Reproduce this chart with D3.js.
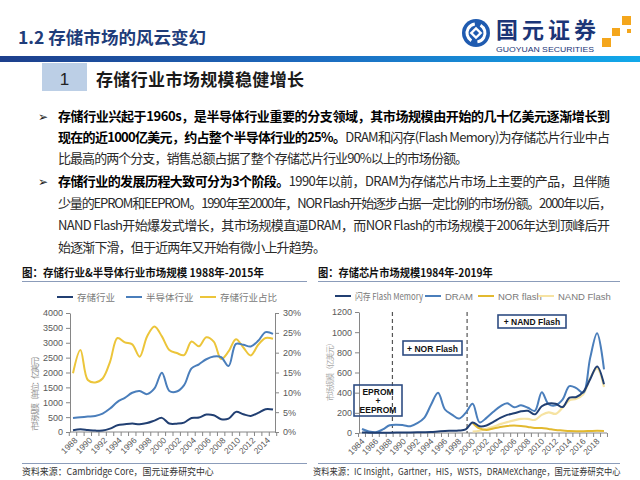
<!DOCTYPE html>
<html><head><meta charset="utf-8">
<script src="https://cdn.jsdelivr.net/npm/d3@7"></script>
<style>body{margin:0;background:#fff}svg{display:block}</style>
</head><body><svg id="c" width="640" height="480"></svg>
<script>
// ---------- DATA ----------
const years1 = [1988,1989,1990,1991,1992,1993,1994,1995,1996,1997,1998,1999,2000,2001,2002,2003,2004,2005,2006,2007,2008,2009,2010,2011,2012,2013,2014,2015];
const memory1 = [60,90,68,48,48,113,225,259,282,262,300,383,475,285,280,315,473,485,586,563,430,450,676,597,541,642,766,755];
const semi1 = [473,496,518,541,620,789,1014,1150,1318,1375,1273,1465,1994,1380,1360,1577,2141,2276,2445,2535,2513,2220,2964,2930,2873,3065,3358,3301];
const ratio1 = [14.8,20.7,13.1,12.5,13.5,17.7,23.7,22.6,22.1,19.0,24.1,26.6,24.1,20.7,19.9,19.4,22.8,21.6,23.9,22.8,18.4,20.3,23.4,21.3,19.3,22.0,23.7,23.5];
const leftTicks1 = [0,500,1000,1500,2000,2500,3000,3500,4000];
const rightTicks1 = [0,5,10,15,20,25,30];
const xLabels1 = [1988,1990,1992,1994,1996,1998,2000,2002,2004,2006,2008,2010,2012,2014];

const years2 = [1984,1985,1986,1987,1988,1989,1990,1991,1992,1993,1994,1995,1996,1997,1998,1999,2000,2001,2002,2003,2004,2005,2006,2007,2008,2009,2010,2011,2012,2013,2014,2015,2016,2017,2018,2019];
const flash2 = [5,3,2,2,3,4,5,6,7,8,10,15,20,22,25,35,105,67,75,110,150,180,195,215,220,185,265,293,290,257,350,357,407,533,660,483];
const dram2 = [40,15,7,35,77,83,77,67,97,150,283,400,233,183,143,200,290,105,150,210,265,295,255,275,250,220,405,285,275,330,465,445,400,745,990,630];
const nor2 = [null,null,null,null,null,null,null,null,null,null,null,null,null,null,null,null,100,45,30,45,60,70,75,70,60,50,50,40,30,25,20,18,18,20,22,20];
const nand2 = [null,null,null,null,null,null,null,null,null,null,null,null,null,null,null,null,15,22,42,62,88,108,125,140,140,130,180,205,190,250,325,340,385,545,640,455];
const yTicks2 = [0,200,400,600,800,1000,1200];
const xLabels2 = [1984,1986,1988,1990,1992,1994,1996,1998,2000,2002,2004,2006,2008,2010,2012,2014,2016,2018];
const phaseYears = [1988.4, 1999.2];

// ---------- SETUP ----------
const svg = d3.select('#c');
const CJK = '"Noto Sans CJK SC", sans-serif';
const LAT = '"Liberation Sans", Arial, sans-serif';
const NAVY = '#213f72', BLUE = '#4a7ebb', GOLD = '#ecc53a', NOR = '#e2b92f', NAND = '#f6e3a2';
const fmt = d3.format('d');

const defs = svg.append('defs');
const gr = defs.append('linearGradient').attr('id','bar').attr('x1','0').attr('x2','1');
gr.append('stop').attr('offset','0').attr('stop-color','#1d3f8c');
gr.append('stop').attr('offset','0.5').attr('stop-color','#1c6cc0');
gr.append('stop').attr('offset','1').attr('stop-color','#12a9ea');

// text squeezed horizontally to a target width (keeps glyph height)
function fitText(x,y,target,attrs,str){
  const g = svg.append('g');
  const t = g.append('text');
  Object.entries(attrs).forEach(([k,v])=>t.attr(k,v));
  t.text(str);
  const w = t.node().getComputedTextLength();
  const s = Math.min(1,target/w);
  g.attr('transform',`translate(${x},${y}) scale(${s},1)`);
  return t;
}

// ---------- HEADER ----------
svg.append('text').attr('x',18).attr('y',44).attr('font-family',CJK).attr('font-weight','bold')
  .attr('font-size',17).attr('fill','#1f3d7a').attr('textLength',188).attr('lengthAdjust','spacingAndGlyphs')
  .text('1.2 存储市场的风云变幻');

// logo
const lg = svg.append('g').attr('transform','translate(476,33)');
lg.append('circle').attr('r',14).attr('fill','#1f5bb0');
lg.append('circle').attr('r',9).attr('fill','none').attr('stroke','#fff').attr('stroke-width',3)
  .attr('stroke-dasharray','22 6.3').attr('transform','rotate(-60)');
lg.append('rect').attr('x',-4.5).attr('y',-4.5).attr('width',9).attr('height',9).attr('fill','#fff').attr('transform','rotate(45)');
lg.append('rect').attr('x',-2.2).attr('y',-2.2).attr('width',4.4).attr('height',4.4).attr('fill','#1f5bb0').attr('transform','rotate(45)');
svg.append('text').attr('x',496).attr('y',38).attr('font-family',CJK).attr('font-weight','bold')
  .attr('font-size',22).attr('fill','#1b3577').attr('textLength',100).text('国元证券');
svg.append('text').attr('x',496).attr('y',52).attr('font-family',LAT).attr('font-size',7.5)
  .attr('fill','#1b3577').attr('textLength',98).attr('lengthAdjust','spacingAndGlyphs').text('GUOYUAN SECURITIES');
[[622,16,9],[612,28,8],[602,38,9],[627,29,4]].forEach(s=>{
  svg.append('rect').attr('x',s[0]).attr('y',s[1]).attr('width',s[2]).attr('height',s[2]).attr('fill','#f4a61c');
});

svg.append('rect').attr('x',0).attr('y',56).attr('width',640).attr('height',6).attr('fill','url(#bar)');

// section header
svg.append('rect').attr('x',42).attr('y',63).attr('width',45).attr('height',28).attr('fill','#bccfe6');
svg.append('text').attr('x',64.5).attr('y',85).attr('text-anchor','middle').attr('font-family',LAT)
  .attr('font-size',17).attr('fill','#222').text('1');
svg.append('text').attr('x',96).attr('y',86).attr('font-family',CJK).attr('font-weight','bold')
  .attr('font-size',17).attr('fill','#1a1a1a').attr('textLength',208).text('存储行业市场规模稳健增长');

// body text
const bodyLines = [
  {y:121,end:610,bullet:true,parts:[['存储行业兴起于1960s，是半导体行业重要的分支领域，其市场规模由开始的几十亿美元逐渐增长到',1]]},
  {y:142,end:610,parts:[['现在的近1000亿美元，约占整个半导体行业的25%。',1],['DRAM和闪存(Flash Memory)为存储芯片行业中占',0]]},
  {y:163,end:468,parts:[['比最高的两个分支，销售总额占据了整个存储芯片行业90%以上的市场份额。',0]]},
  {y:186,end:610,bullet:true,parts:[['存储行业的发展历程大致可分为3个阶段。',1],['1990年以前，DRAM为存储芯片市场上主要的产品，且伴随',0]]},
  {y:208,end:612,parts:[['少量的EPROM和EEPROM。1990年至2000年，NOR Flash开始逐步占据一定比例的市场份额。2000年以后，',0]]},
  {y:230,end:610,parts:[['NAND Flash开始爆发式增长，其市场规模直逼DRAM，而NOR Flash的市场规模于2006年达到顶峰后开',0]]},
  {y:252,end:326,parts:[['始逐渐下滑，但于近两年又开始有微小上升趋势。',0]]}
];
bodyLines.forEach(l=>{
  if(l.bullet) svg.append('text').attr('x',38).attr('y',l.y).attr('font-family','"DejaVu Sans"')
    .attr('font-size',12).attr('fill','#222').text('➢');
  const t = svg.append('text').attr('x',58).attr('y',l.y).attr('font-family',CJK).attr('font-size',13)
    .attr('textLength',l.end-58).attr('lengthAdjust','spacing');
  l.parts.forEach(p=>t.append('tspan').attr('font-weight',p[1]?'bold':'normal').attr('fill',p[1]?'#000':'#2a2a2a').text(p[0]));
});

// ---------- CHART FRAMES ----------
function frame(x0,x1,title,tlen,sx,src,slen){
  fitText(x0,277,tlen,{'font-family':CJK,'font-weight':'bold','font-size':11,fill:'#111'},title);
  svg.append('line').attr('x1',x0).attr('x2',x1).attr('y1',281.5).attr('y2',281.5).attr('stroke','#8b9cba');
  svg.append('line').attr('x1',x0).attr('x2',x1).attr('y1',463.5).attr('y2',463.5).attr('stroke','#8b9cba');
  fitText(sx,475,slen,{'font-family':CJK,'font-size':9.5,fill:'#333'},src);
}
frame(22,307,'图：存储行业&半导体行业市场规模 1988年-2015年',242,22,'资料来源：Cambridge Core，国元证券研究中心',192);
frame(318,620,'图：存储芯片市场规模1984年-2019年',175,313,'资料来源：IC Insight，Gartner，HIS，WSTS，DRAMeXchange，国元证券研究中心',308);

function styleAxis(g){
  g.selectAll('path,line').attr('stroke','#868686');
  g.selectAll('text').attr('font-family',LAT).attr('font-size',9).attr('fill','#595959');
}
function legend(items,y){
  items.forEach(it=>{
    svg.append('line').attr('x1',it.x).attr('x2',it.x+16).attr('y1',y).attr('y2',y).attr('stroke',it.c).attr('stroke-width',2);
    const t = svg.append('text').attr('x',it.x+20).attr('y',y+3.5).attr('font-family',it.f||CJK).attr('font-size',9.5)
      .attr('fill','#7a7a7a').text(it.t);
    if(it.w) t.attr('textLength',it.w).attr('lengthAdjust','spacingAndGlyphs');
  });
}

// ---------- LEFT CHART ----------
const x1 = d3.scaleLinear().domain([1988,2015]).range([73,273]);
const y1 = d3.scaleLinear().domain([0,4000]).range([432,313]);
const y1r = d3.scaleLinear().domain([0,30]).range([432,313]);
const ga = svg.append('g').attr('transform','translate(70,0)')
  .call(d3.axisLeft(y1).tickValues(leftTicks1).tickFormat(fmt).tickSize(4).tickSizeOuter(0).tickPadding(3));
styleAxis(ga);
const gb = svg.append('g').attr('transform','translate(275,0)')
  .call(d3.axisRight(y1r).tickValues(rightTicks1).tickFormat(d=>d+'%').tickSize(4).tickSizeOuter(0).tickPadding(4));
styleAxis(gb);
const gx1 = svg.append('g').attr('transform','translate(0,432)');
gx1.append('line').attr('x1',70).attr('x2',275).attr('stroke','#868686');
const step1 = x1(1989)-x1(1988);
years1.concat([2016]).forEach(yr=>gx1.append('line').attr('x1',x1(yr)-step1/2).attr('x2',x1(yr)-step1/2).attr('y2',4).attr('stroke','#868686'));
xLabels1.forEach(yr=>gx1.append('text').attr('transform',`translate(${x1(yr)+5},9) rotate(-45)`)
  .attr('text-anchor','end').attr('font-family',LAT).attr('font-size',8.5).attr('fill','#595959').text(yr));
svg.append('text').attr('transform','translate(38,391) rotate(-90)').attr('text-anchor','middle')
  .attr('font-family',CJK).attr('font-size',8.5).attr('fill','#9a9a9a').attr('textLength',80).text('市场规模（单位：亿美元）');

const line1 = (ys)=>d3.line().x((d,i)=>x1(years1[i])).y(d=>ys(d)).curve(d3.curveCatmullRom.alpha(0.5));
svg.append('path').datum(ratio1).attr('d',line1(y1r)).attr('fill','none').attr('stroke',GOLD).attr('stroke-width',2);
svg.append('path').datum(semi1).attr('d',line1(y1)).attr('fill','none').attr('stroke',BLUE).attr('stroke-width',2);
svg.append('path').datum(memory1).attr('d',line1(y1)).attr('fill','none').attr('stroke',NAVY).attr('stroke-width',2);
legend([{x:57,c:NAVY,t:'存储行业'},{x:126,c:BLUE,t:'半导体行业'},{x:200,c:GOLD,t:'存储行业占比'}],297);

// ---------- RIGHT CHART ----------
const x2 = d3.scaleLinear().domain([1984,2019]).range([362,604]);
const y2 = d3.scaleLinear().domain([0,1200]).range([433,312]);
const gc = svg.append('g').attr('transform','translate(359,0)')
  .call(d3.axisLeft(y2).tickValues(yTicks2).tickFormat(fmt).tickSize(4).tickSizeOuter(0).tickPadding(3));
styleAxis(gc);
const gx2 = svg.append('g').attr('transform','translate(0,433)');
gx2.append('line').attr('x1',359).attr('x2',607).attr('stroke','#868686');
const step2 = x2(1985)-x2(1984);
years2.concat([2020]).forEach(yr=>gx2.append('line').attr('x1',x2(yr)-step2/2).attr('x2',x2(yr)-step2/2).attr('y2',4).attr('stroke','#868686'));
xLabels2.forEach(yr=>gx2.append('text').attr('transform',`translate(${x2(yr)+3},9) rotate(-45)`)
  .attr('text-anchor','end').attr('font-family',LAT).attr('font-size',8.5).attr('fill','#595959').text(yr));
svg.append('text').attr('transform','translate(333,370) rotate(-90)').attr('text-anchor','middle')
  .attr('font-family',CJK).attr('font-size',7.5).attr('fill','#a8a8a8').attr('textLength',62).text('市场规模（亿美元）');

phaseYears.forEach(yr=>svg.append('line').attr('x1',x2(yr)).attr('x2',x2(yr)).attr('y1',312).attr('y2',433)
  .attr('stroke','#555').attr('stroke-width',1.2).attr('stroke-dasharray','4 3'));

const line2 = d3.line().defined(d=>d!=null).x((d,i)=>x2(years2[i])).y(d=>y2(d)).curve(d3.curveCatmullRom.alpha(0.5));
svg.append('path').datum(nand2).attr('d',line2).attr('fill','none').attr('stroke',NAND).attr('stroke-width',2.2);
svg.append('path').datum(nor2).attr('d',line2).attr('fill','none').attr('stroke',NOR).attr('stroke-width',2);
svg.append('path').datum(dram2).attr('d',line2).attr('fill','none').attr('stroke',BLUE).attr('stroke-width',2);
svg.append('path').datum(flash2).attr('d',line2).attr('fill','none').attr('stroke',NAVY).attr('stroke-width',2);

// annotation boxes
function box(x,y,w,h,lines,dy){
  svg.append('rect').attr('x',x).attr('y',y).attr('width',w).attr('height',h).attr('fill','none')
    .attr('stroke','#2f4d82').attr('stroke-width',1.6);
  lines.forEach((t,i)=>svg.append('text').attr('x',x+w/2).attr('y',y+dy+i*9).attr('text-anchor','middle')
    .attr('font-family',LAT).attr('font-weight','bold').attr('font-size',8.5).attr('fill','#111').text(t));
}
box(354,385,48,31,['EPROM','+','EEPROM'],10);
box(403,341,59,14,['+ NOR Flash'],10.5);
box(498,315,68,13,['+ NAND Flash'],10);

legend([{x:335,c:NAVY,t:'闪存 Flash Memory',w:68},{x:425,c:BLUE,t:'DRAM',f:LAT},{x:478,c:NOR,t:'NOR flash',f:LAT},{x:538,c:NAND,t:'NAND Flash',f:LAT}],296);
</script></body></html>
